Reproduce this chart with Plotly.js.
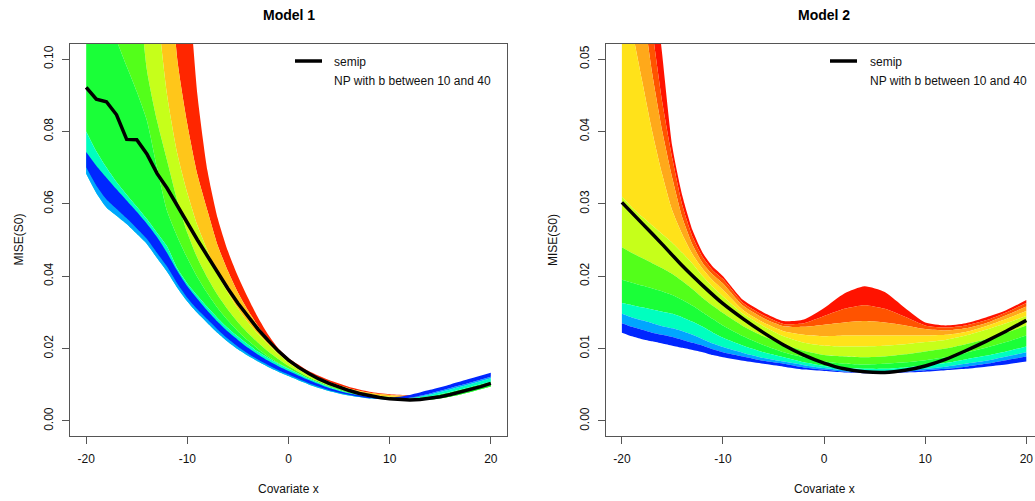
<!DOCTYPE html>
<html>
<head>
<meta charset="utf-8">
<script src="https://cdn.plot.ly/plotly-3.0.1.min.js"></script>
<style>
html,body{margin:0;padding:0;overflow:hidden;background:#ffffff;}
#chart{width:1050px;height:501px;}
</style>
</head>
<body>
<div id="chart"></div>
<script>
// ---------------- DATA ----------------
// Model 1: x grid shared by the NP curves
const m1X = [-20,-19,-18,-17,-16,-15,-14,-13,-12,-11,-10,-9,-8,-7,-6,-5,-4,-3,-2,-1,0,2,4,6,8,10,12,14,16,18,20];
// NP curves, labelled by their colour (red = one end of the b range, blue = the other)
const m1Hues = [0,30,60,90,120,150,180,210,240];
const m1_hue0   = [0.75,0.66,0.58,0.50,0.42,0.36,0.30,0.25,0.20,0.16,0.125,0.090,0.069,0.056,0.047,0.040,0.0340,0.0285,0.0238,0.0200,0.0174,0.0138,0.0113,0.0094,0.0081,0.0074,0.0071,0.0065,0.0074,0.0087,0.0101];
const m1_hue30  = [0.50,0.44,0.39,0.34,0.29,0.245,0.205,0.170,0.137,0.100,0.082,0.068,0.058,0.0485,0.0415,0.0355,0.0305,0.0262,0.0224,0.0192,0.0167,0.0133,0.0108,0.0090,0.0078,0.0072,0.0069,0.0065,0.0073,0.0086,0.0100];
const m1_hue60  = [0.36,0.32,0.28,0.245,0.21,0.178,0.148,0.115,0.090,0.074,0.063,0.054,0.047,0.0405,0.0355,0.0310,0.0272,0.0240,0.0211,0.0185,0.0161,0.0126,0.0102,0.0085,0.0073,0.0067,0.0065,0.0064,0.0072,0.0085,0.0099];
const m1_hue90  = [0.26,0.23,0.20,0.175,0.150,0.125,0.097,0.083,0.072,0.061,0.052,0.045,0.0395,0.0348,0.0308,0.0273,0.0243,0.0216,0.0192,0.0171,0.0152,0.0121,0.0098,0.0082,0.0070,0.0064,0.0062,0.0063,0.0070,0.0082,0.0097];
const m1_hue120 = [0.120,0.115,0.110,0.105,0.098,0.091,0.083,0.070,0.058,0.051,0.045,0.0397,0.0352,0.0312,0.0278,0.0248,0.0222,0.0199,0.0178,0.0160,0.0145,0.0117,0.0095,0.0079,0.0067,0.0061,0.0059,0.0059,0.0067,0.0080,0.0095];
const m1_hue150 = [0.0800,0.0745,0.0700,0.0660,0.0625,0.0592,0.0558,0.0520,0.0482,0.0422,0.0380,0.0346,0.0314,0.0284,0.0257,0.0233,0.0211,0.0191,0.0174,0.0158,0.0144,0.0117,0.0094,0.0077,0.0066,0.0061,0.0061,0.0068,0.0080,0.0094,0.0108];
const m1_hue180 = [0.0683,0.0630,0.0590,0.0567,0.0544,0.0517,0.0489,0.0450,0.0412,0.0368,0.0330,0.0298,0.0270,0.0243,0.0219,0.0198,0.0180,0.0164,0.0149,0.0136,0.0124,0.0101,0.0083,0.0070,0.0062,0.0059,0.0062,0.0073,0.0087,0.0102,0.0118];
const m1_hue210 = [0.0700,0.0650,0.0612,0.0586,0.0560,0.0532,0.0503,0.0464,0.0426,0.0380,0.0340,0.0308,0.0280,0.0252,0.0227,0.0205,0.0186,0.0169,0.0154,0.0140,0.0128,0.0104,0.0085,0.0072,0.0063,0.0060,0.0064,0.0076,0.0091,0.0106,0.0122];
const m1_hue240 = [0.0743,0.0705,0.0672,0.0640,0.0609,0.0578,0.0545,0.0508,0.0464,0.0415,0.0372,0.0337,0.0304,0.0274,0.0247,0.0224,0.0202,0.0183,0.0166,0.0151,0.0138,0.0113,0.0091,0.0076,0.0067,0.0064,0.0072,0.0086,0.0101,0.0117,0.0133];
// semip (black)
const m1SemipX = [-20,-19,-18,-17,-16,-15,-14,-13,-12,-11,-10,-9,-8,-7,-6,-5,-4,-3,-2,-1,0,1,2,3,4,5,6,7,8,9,10,11,12,13,14,15,16,17,18,19,20];
const m1Semip  = [0.0922,0.0889,0.0882,0.0846,0.0778,0.0777,0.0738,0.0684,0.0643,0.0595,0.0545,0.0500,0.0455,0.0410,0.0366,0.0325,0.0287,0.0253,0.0222,0.0193,0.0168,0.0148,0.0131,0.0116,0.0104,0.0093,0.0084,0.0076,0.0070,0.0065,0.0061,0.0059,0.0058,0.0059,0.0062,0.0067,0.0073,0.0080,0.0087,0.0095,0.0104];

// Model 2
const m2X = [-20,-19,-18,-17,-16,-15,-14,-13,-12,-11,-10,-8,-6,-4,-2,0,2,4,6,8,10,12,14,16,18,20];
const m2Hues = [0,15,30,45,60,90,120,150,180,210,240];
const m2_hue0   = [0.100,0.087,0.075,0.063,0.0505,0.0378,0.0310,0.0263,0.0232,0.0213,0.0200,0.0167,0.0150,0.0138,0.0140,0.0156,0.0176,0.0186,0.0178,0.0156,0.0136,0.0132,0.0135,0.0143,0.0153,0.0167];
const m2_hue15  = [0.085,0.074,0.064,0.054,0.044,0.0362,0.0297,0.0254,0.0226,0.0208,0.0196,0.0163,0.0146,0.0134,0.0135,0.0145,0.0155,0.0160,0.0155,0.0144,0.0132,0.0129,0.0132,0.0139,0.0150,0.0163];
const m2_hue30  = [0.078,0.068,0.058,0.048,0.040,0.0335,0.0280,0.0243,0.0218,0.0202,0.0190,0.0159,0.0142,0.0131,0.0130,0.0133,0.0136,0.0138,0.0136,0.0132,0.0127,0.0125,0.0128,0.0135,0.0146,0.0158];
const m2_hue45  = [0.060,0.054,0.047,0.040,0.034,0.0290,0.0257,0.0230,0.0210,0.0194,0.0181,0.0153,0.0136,0.0124,0.0119,0.0117,0.0118,0.0118,0.0118,0.0118,0.0118,0.0119,0.0123,0.0131,0.0141,0.0152];
const m2_hue60  = [0.0310,0.0295,0.0282,0.0270,0.0258,0.0246,0.0232,0.0217,0.0200,0.0185,0.0172,0.0148,0.0131,0.0117,0.0108,0.0104,0.0103,0.0103,0.0104,0.0106,0.0109,0.0112,0.0118,0.0126,0.0135,0.0145];
const m2_hue90  = [0.0240,0.0232,0.0225,0.0218,0.0211,0.0203,0.0193,0.0182,0.0170,0.0159,0.0149,0.0131,0.0117,0.0106,0.0097,0.0091,0.0089,0.0088,0.0089,0.0092,0.0096,0.0100,0.0106,0.0113,0.0122,0.0132];
const m2_hue120 = [0.0195,0.0191,0.0187,0.0183,0.0179,0.0174,0.0167,0.0159,0.0150,0.0141,0.0132,0.0117,0.0105,0.0095,0.0088,0.0082,0.0079,0.0078,0.0079,0.0081,0.0084,0.0088,0.0094,0.0101,0.0109,0.0118];
const m2_hue150 = [0.0163,0.0160,0.0157,0.0154,0.0151,0.0148,0.0143,0.0137,0.0130,0.0122,0.0115,0.0104,0.0095,0.0088,0.0081,0.0076,0.0073,0.0072,0.0072,0.0074,0.0077,0.0080,0.0085,0.0090,0.0096,0.0103];
const m2_hue180 = [0.0148,0.0143,0.0139,0.0135,0.0131,0.0128,0.0124,0.0119,0.0113,0.0107,0.0102,0.0094,0.0087,0.0082,0.0077,0.0073,0.0070,0.0069,0.0069,0.0070,0.0072,0.0075,0.0079,0.0083,0.0089,0.0095];
const m2_hue210 = [0.0135,0.0130,0.0126,0.0122,0.0119,0.0116,0.0112,0.0108,0.0104,0.0099,0.0095,0.0089,0.0083,0.0079,0.0074,0.0071,0.0068,0.0067,0.0067,0.0068,0.0070,0.0072,0.0075,0.0079,0.0084,0.0089];
const m2_hue240 = [0.0122,0.0117,0.0113,0.0110,0.0107,0.0104,0.0101,0.0098,0.0095,0.0091,0.0088,0.0083,0.0079,0.0075,0.0071,0.0069,0.0067,0.0066,0.0066,0.0067,0.0068,0.0070,0.0072,0.0075,0.0078,0.0082];
const m2SemipX = [-20,-18,-16,-14,-12,-10,-8,-6,-4,-2,0,2,4,6,8,10,12,14,16,18,20];
const m2Semip  = [0.0302,0.0273,0.0244,0.0214,0.0187,0.0162,0.0141,0.0122,0.0105,0.0091,0.0080,0.0072,0.0068,0.0067,0.0070,0.0076,0.0085,0.0097,0.0110,0.0124,0.0139];

// Axis ticks and texts
const xTickVals = [-20,-10,0,10,20];
const xTickText = ['-20','-10','0','10','20'];
const y1TickVals = [0,0.02,0.04,0.06,0.08,0.10];
const y1TickText = ['0.00','0.02','0.04','0.06','0.08','0.10'];
const y2TickVals = [0,0.01,0.02,0.03,0.04,0.05];
const y2TickText = ['0.00','0.01','0.02','0.03','0.04','0.05'];
const titles = ['Model 1','Model 2'];
const xTitle = 'Covariate x';
const yTitle = 'MISE(S0)';
const legendLabels = ['semip','NP with b between 10 and 40'];

// ---------------- DRAWING ----------------
const W = 1050, H = 501;
function hsv(h, light){
  h = ((h % 360) + 360) % 360;
  const x = 1 - Math.abs((h / 60) % 2 - 1);
  let r=0,g=0,b=0;
  if (h < 60){r=1;g=x;} else if (h < 120){r=x;g=1;} else if (h < 180){g=1;b=x;}
  else if (h < 240){g=x;b=1;} else if (h < 300){r=x;b=1;} else {r=1;b=x;}
  const L = light || 0;
  const f = v => Math.round((v + (1 - v) * L) * 255);
  return 'rgb(' + f(r) + ',' + f(g) + ',' + f(b) + ')';
}
function bandColor(a, b){
  let h = (a + b) / 2;
  if (b <= 30) h = a + (b - a) * 0.3;
  if (a >= 180) h = a + (b - a) * 0.7;
  if (a === 120 && b === 150) h = 128;
  const light = (h > 35 && h < 165) ? 0.1 : 0;
  return hsv(h, light);
}
const m1Curves = [m1_hue0,m1_hue30,m1_hue60,m1_hue90,m1_hue120,m1_hue150,m1_hue180,m1_hue210,m1_hue240];
const m2Curves = [m2_hue0,m2_hue15,m2_hue30,m2_hue45,m2_hue60,m2_hue90,m2_hue120,m2_hue150,m2_hue180,m2_hue210,m2_hue240];

const traces = [];
function addBands(xs, curves, hues, xa, ya){
  curves.forEach((ys, i) => {
    traces.push({
      type:'scatter', mode:'lines', x: xs, y: ys, xaxis: xa, yaxis: ya,
      line:{width:0, color:'rgba(0,0,0,0)', shape:'spline', smoothing:0.6},
      fill: i === 0 ? 'none' : 'tonexty',
      fillcolor: i === 0 ? 'rgba(0,0,0,0)' : bandColor(hues[i-1], hues[i]),
      hoverinfo:'skip', showlegend:false
    });
  });
}
addBands(m1X, m1Curves, m1Hues, 'x', 'y');
traces.push({type:'scatter', mode:'lines', x:m1SemipX, y:m1Semip, xaxis:'x', yaxis:'y',
  line:{color:'#000000', width:3.5}, hoverinfo:'skip', showlegend:false});
addBands(m2X, m2Curves, m2Hues, 'x2', 'y2');
traces.push({type:'scatter', mode:'lines', x:m2SemipX, y:m2Semip, xaxis:'x2', yaxis:'y2',
  line:{color:'#000000', width:3.5, shape:'spline', smoothing:0.5}, hoverinfo:'skip', showlegend:false});

const px = v => v / W;
const py = v => 1 - v / H;
const yDom = [py(436), py(44)];
const fontFam = 'Liberation Sans, Arial, sans-serif';
const tickFont = {family:fontFam, size:12, color:'#111'};
function xAxis(dom, anchor){
  return {domain:dom, anchor:anchor, range:[-21.6,21.6], tickvals:xTickVals, ticktext:xTickText,
    showgrid:false, zeroline:false, showline:true, mirror:true, linecolor:'#555', linewidth:1,
    ticks:'outside', ticklen:7, tickwidth:1, tickcolor:'#555', tickfont:tickFont, ticklabelstandoff:5};
}
function yAxis(rng, tv, tt, anchor){
  return {domain:yDom, range:rng, tickvals:tv, ticktext:tt, anchor:anchor,
    showgrid:false, zeroline:false, showline:true, mirror:true, linecolor:'#555', linewidth:1,
    ticks:'outside', ticklen:7, tickwidth:1, tickcolor:'#555', tickfont:tickFont, tickangle:-90, ticklabelstandoff:4};
}

const panels = [
  {cx:288.5, ylab:18.5, lineX:[295,322], textX:332},
  {cx:824, ylab:553, lineX:[830,857], textX:868}
];
const annotations = [];
const shapes = [];
panels.forEach((p, k) => {
  annotations.push({xref:'paper', yref:'paper', x:px(p.cx), y:py(15), text:'<b>' + titles[k] + '</b>',
    showarrow:false, xanchor:'center', yanchor:'middle', font:{family:fontFam, size:14, color:'#000'}});
  annotations.push({xref:'paper', yref:'paper', x:px(p.cx), y:py(489), text:xTitle,
    showarrow:false, xanchor:'center', yanchor:'middle', font:{family:fontFam, size:12, color:'#111'}});
  annotations.push({xref:'paper', yref:'paper', x:px(p.ylab), y:py(240), text:yTitle, textangle:-90,
    showarrow:false, xanchor:'center', yanchor:'middle', font:{family:fontFam, size:12, color:'#111'}});
  annotations.push({xref:'paper', yref:'paper', x:px(p.textX), y:py(62.5), text:legendLabels[0],
    showarrow:false, xanchor:'left', yanchor:'middle', font:{family:fontFam, size:12, color:'#111'}});
  annotations.push({xref:'paper', yref:'paper', x:px(p.textX), y:py(80.5), text:legendLabels[1],
    showarrow:false, xanchor:'left', yanchor:'middle', font:{family:fontFam, size:12, color:'#111'}});
  shapes.push({type:'line', xref:'paper', yref:'paper', x0:px(p.lineX[0]), x1:px(p.lineX[1]), y0:py(61), y1:py(61),
    line:{color:'#000', width:3.5}});
});

const layout = {
  width:W, height:H, margin:{l:0,r:0,t:0,b:0},
  paper_bgcolor:'#ffffff', plot_bgcolor:'#ffffff',
  showlegend:false,
  xaxis: xAxis([px(70), px(507)], 'y'),
  yaxis: yAxis([-0.00416,0.10416], y1TickVals, y1TickText, 'x'),
  xaxis2: xAxis([px(605.7), px(1042.5)], 'y2'),
  yaxis2: yAxis([-0.00208,0.05208], y2TickVals, y2TickText, 'x2'),
  annotations: annotations,
  shapes: shapes
};
Plotly.newPlot('chart', traces, layout, {staticPlot:true, displayModeBar:false});
</script>
</body>
</html>
